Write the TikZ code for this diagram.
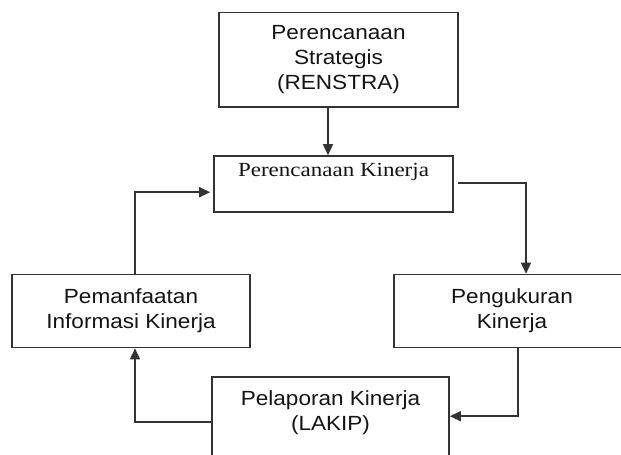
\documentclass[tikz,border=0pt]{standalone}
\usepackage{fontspec}
\setsansfont[FakeStretch=1.1]{Liberation Sans}
\setmainfont[FakeStretch=1.15]{Liberation Serif}
\usepackage{xcolor}
\usetikzlibrary{arrows.meta}
\definecolor{LineGray}{HTML}{333333}
\definecolor{TextBlack}{HTML}{141414}

\begin{document}
\begin{tikzpicture}[x=1pt, y=-1pt,
        box/.style={draw=LineGray, line width=1.6pt, inner sep=0pt,
                    align=center, text=TextBlack,
                    font=\sffamily\fontsize{20.5}{25}\selectfont},
        arr/.style={draw=LineGray, line width=1.5pt,
                    -{Triangle[length=11pt, width=10pt]}}]

        \useasboundingbox (0,0) rectangle (621,455);
        \clip (0,0) rectangle (621,455);

        % Boxes
        \node[box, minimum width=239, minimum height=94.5] (renstra) at (338.5,59.75)
            {Perencanaan\\Strategis\\(RENSTRA)};
        \node[box, minimum width=239, text height=20pt, text depth=36pt,
              font=\rmfamily\fontsize{20}{24}\selectfont] (kinerja) at (333.5,184)
            {Perencanaan Kinerja};
        \node[box, minimum width=238, minimum height=73] (manfaat) at (131,311)
            {Pemanfaatan\\Informasi Kinerja};
        \node[box, minimum width=236, minimum height=73] (ukur) at (512,311)
            {Pengukuran\\Kinerja};
        \node[box, minimum width=237, text height=53pt, text depth=50pt] (lapor) at (330.5,428.5)
            {Pelaporan Kinerja\\(LAKIP)};

        % Arrows
        \draw[arr] ([xshift=-10.5pt]renstra.south) -- ([xshift=-5.5pt]kinerja.north);
        \draw[arr] ([xshift=4pt, yshift=1pt]kinerja.east) -| ([xshift=14pt]ukur.north);
        \draw[arr] ([xshift=6pt]ukur.south) |- ([yshift=-40pt]lapor.north east);
        \draw[arr] ([yshift=-46pt]lapor.north west) -| ([xshift=4pt]manfaat.south);
        \draw[arr, shorten >=3pt] ([xshift=4pt]manfaat.north) |- ([yshift=-37pt]kinerja.north west);
      \end{tikzpicture}
\end{document}
